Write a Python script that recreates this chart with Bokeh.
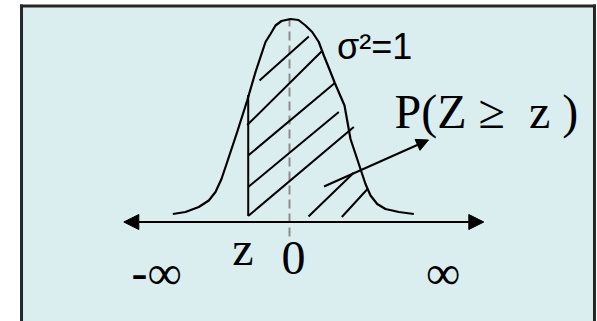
from bokeh.plotting import figure
from bokeh.models import Range1d, Arrow, NormalHead
from bokeh.core.properties import value
from bokeh.embed import file_html
from bokeh.resources import INLINE

# Standard normal density sketch, x in standard deviations, y in density units
curve_x = [-2.431, -2.167, -1.890, -1.681, -1.542, -1.417, -1.298, -1.090, -0.881,
           -0.708, -0.604, -0.500, -0.396, -0.292, -0.167, 0.021, 0.188, 0.333,
           0.473, 0.610, 0.715, 0.854, 0.944, 1.146, 1.271, 1.479, 1.583, 1.688,
           1.827, 2.000, 2.278, 2.590]
curve_y = [0.016, 0.020, 0.030, 0.043, 0.060, 0.086, 0.120, 0.180, 0.243,
           0.300, 0.330, 0.360, 0.376, 0.393, 0.402, 0.406, 0.404, 0.393,
           0.380, 0.360, 0.333, 0.300, 0.278, 0.233, 0.166, 0.106, 0.076, 0.053,
           0.036, 0.026, 0.020, 0.016]

# Cut-off point z and the mean
z_value = -0.86
z_bottom, z_top = 0.012, 0.254
mean_value = 0.0
mean_top = 0.407
mean_bottom = -0.029

# Hatching of the shaded tail area P(Z >= z)
hatch_x0 = [-0.625, -0.881, -0.860, -0.860, -0.860, 0.396, 1.090]
hatch_y0 = [0.283, 0.194, 0.133, 0.070, 0.012, 0.011, 0.010]
hatch_x1 = [0.402, 0.667, 0.944, 1.027, 1.340, 1.333, 1.625]
hatch_y1 = [0.371, 0.341, 0.278, 0.220, 0.190, 0.098, 0.066]

# Number line from -inf to +inf
axis_left, axis_right = -3.452, 4.048

# Pointer from the hatched tail to its label
pointer_start = (0.719, 0.071)
pointer_end = (2.896, 0.164)

# Labels: text, x, y
labels = {
    "sigma": ("σ²=1", 0.99, 0.351),
    "prob": ("P(Z ≥ \u00a0z )", 2.19, 0.221),
    "z": ("z", -0.969, -0.052),
    "zero": ("0", 0.083, -0.071),
    "neg_inf": ("-∞", -3.29, -0.101),
    "pos_inf": ("∞", 3.198, -0.101),
}

Y_MIN, Y_MAX = -99.5 / 500, 221.5 / 500

# Panel frame (runs off the bottom edge)
BOX_LEFT, BOX_RIGHT, BOX_TOP, BOX_BOTTOM = -5.583, 6.354, 0.432, -0.25

p = figure(width=597, height=321,
           x_range=Range1d(-289 / 48, (597 - 289) / 48),
           y_range=Range1d(Y_MIN, Y_MAX),
           output_backend="svg", toolbar_location=None, title_location=None,
           x_axis_location=None, y_axis_location=None,
           min_border=0, outline_line_color=None,
           background_fill_color="white", border_fill_color="white")
p.grid.visible = False

p.quad(left=[BOX_LEFT], right=[BOX_RIGHT], top=[BOX_TOP], bottom=[BOX_BOTTOM],
       fill_color="#daeef0", line_color=None)
p.segment(x0=[BOX_LEFT, BOX_LEFT, BOX_RIGHT],
          y0=[BOX_BOTTOM, BOX_TOP, BOX_TOP],
          x1=[BOX_LEFT, BOX_RIGHT, BOX_RIGHT],
          y1=[BOX_TOP, BOX_TOP, BOX_BOTTOM],
          line_color="#262626", line_width=3, line_cap="square")

# mean marker
p.line([mean_value, mean_value], [mean_bottom, mean_top],
       line_color="#8c8c8c", line_width=2, line_dash="9 5")

# hatched region
p.segment(x0=hatch_x0, y0=hatch_y0, x1=hatch_x1, y1=hatch_y1,
          line_color="black", line_width=2)
p.line([z_value, z_value], [z_bottom, z_top], line_color="black", line_width=2)

# density curve
p.line(curve_x, curve_y, line_color="black", line_width=2.2, line_join="round")

# number line with arrow heads at both ends
p.add_layout(Arrow(start=NormalHead(size=15, fill_color="black", line_color="black"),
                   end=NormalHead(size=15, fill_color="black", line_color="black"),
                   x_start=axis_left, y_start=0, x_end=axis_right, y_end=0,
                   line_color="black", line_width=2))

# pointer to the probability label
p.add_layout(Arrow(end=NormalHead(size=12, fill_color="black", line_color="black"),
                   x_start=pointer_start[0], y_start=pointer_start[1],
                   x_end=pointer_end[0], y_end=pointer_end[1],
                   line_color="black", line_width=2))

serif = value("Liberation Serif")
t, x, y = labels["sigma"]
p.text([x], [y], text=[t], text_font=value("Liberation Sans"), text_font_size="36px",
       text_align="left", text_baseline="alphabetic", text_color="black")
t, x, y = labels["prob"]
p.text([x], [y], text=[t], text_font=serif, text_font_size="48px",
       text_align="left", text_baseline="alphabetic", text_color="black")
for key in ("z", "zero", "pos_inf"):
    t, x, y = labels[key]
    p.text([x], [y], text=[t], text_font=serif, text_font_size="48px",
           text_align="center", text_baseline="alphabetic", text_color="black")
t, x, y = labels["neg_inf"]
p.text([x], [y], text=[t], text_font=serif, text_font_size="48px",
       text_align="left", text_baseline="alphabetic", text_color="black")

open("out.html", "w").write(file_html(p, INLINE))
